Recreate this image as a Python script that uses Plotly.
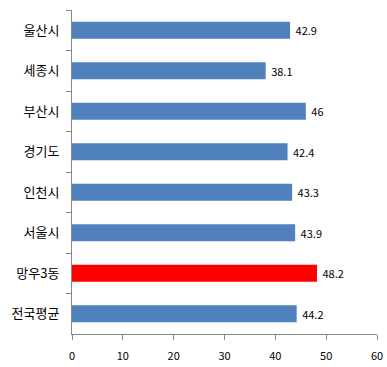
import plotly.graph_objects as go

categories = ["울산시", "세종시", "부산시", "경기도", "인천시", "서울시", "망우3동", "전국평균"]
values = [42.9, 38.1, 46, 42.4, 43.3, 43.9, 48.2, 44.2]
colors = ["#4F81BD"] * 6 + ["#FF0000", "#4F81BD"]
x_ticks = [0, 10, 20, 30, 40, 50, 60]

font_family = "Noto Sans CJK KR, Noto Sans, sans-serif"

fig = go.Figure(go.Bar(
    y=categories,
    x=values,
    orientation="h",
    marker=dict(color=colors, line=dict(width=0)),
    text=["\u00a0" + str(v) for v in values],
    textposition="outside",
    textfont=dict(size=11, color="#000000", family=font_family),
    cliponaxis=False,
    width=0.42,
    hoverinfo="skip",
))

fig.update_layout(
    width=387, height=367,
    margin=dict(l=72, r=10, t=10, b=33),
    paper_bgcolor="white", plot_bgcolor="white",
    font=dict(family=font_family, color="#000000"),
    showlegend=False,
)
fig.update_xaxes(
    range=[0, 60], tickvals=x_ticks, ticktext=[str(t) for t in x_ticks],
    showgrid=False, zeroline=False, automargin=False,
    showline=True, linecolor="#868686", linewidth=1,
    ticks="outside", ticklen=5, tickcolor="#868686",
    tickfont=dict(size=11, color="#000000"), ticklabelstandoff=7,
)
fig.update_yaxes(
    autorange="reversed", automargin=False,
    showgrid=False, zeroline=False,
    showline=True, linecolor="#868686", linewidth=1,
    ticks="outside", ticklen=5, tickcolor="#868686", tickson="boundaries",
    tickfont=dict(size=13, color="#000000"), ticklabelstandoff=9,
)

fig.write_html("out.html", config={"displayModeBar": False},
               post_script="document.body.style.margin='0';")
